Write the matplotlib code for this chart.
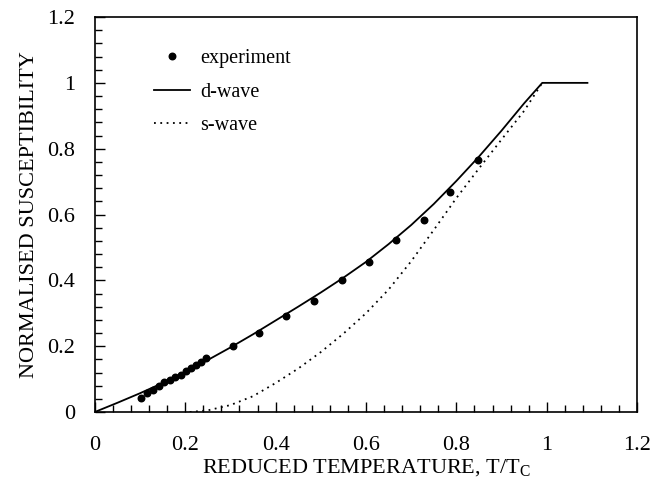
import matplotlib
matplotlib.use("Agg")
import matplotlib.pyplot as plt
from matplotlib.ticker import MultipleLocator, FuncFormatter

# experiment
t_exp = [0.103, 0.116, 0.129, 0.142, 0.154, 0.166, 0.177, 0.190, 0.201, 0.213,
         0.224, 0.235, 0.247, 0.305, 0.363, 0.424, 0.485, 0.546, 0.607, 0.667,
         0.728, 0.787, 0.847]
chi_exp = [0.043, 0.057, 0.067, 0.080, 0.092, 0.097, 0.105, 0.113, 0.125, 0.135,
           0.143, 0.153, 0.163, 0.200, 0.241, 0.293, 0.338, 0.401, 0.455, 0.522,
           0.582, 0.667, 0.767]

# d-wave curve
t_d = [0.0, 0.05, 0.1, 0.15, 0.2, 0.25, 0.3, 0.35, 0.4, 0.45, 0.5, 0.55, 0.6,
       0.65, 0.7, 0.75, 0.8, 0.85, 0.9, 0.95, 0.99, 1.09]
chi_d = [0.0, 0.028, 0.057, 0.088, 0.121, 0.158, 0.196, 0.236, 0.278, 0.320,
         0.363, 0.408, 0.456, 0.510, 0.568, 0.632, 0.702, 0.776, 0.855, 0.938,
         1.0, 1.0]

# s-wave curve
t_s = [0.21, 0.25, 0.3, 0.35, 0.4, 0.45, 0.5, 0.55, 0.6, 0.65, 0.7, 0.75, 0.8,
       0.85, 0.9, 0.95, 0.99]
chi_s = [0.0, 0.005, 0.021, 0.048, 0.088, 0.132, 0.182, 0.238, 0.300, 0.372,
         0.458, 0.553, 0.650, 0.740, 0.828, 0.915, 1.0]

plt.rcParams['font.family'] = ['Liberation Serif', 'DejaVu Serif']

fig = plt.figure(figsize=(6.63, 4.87), dpi=100)
ax = fig.add_axes([0.143, 0.154, 0.818, 0.811])

ax.plot(t_exp, chi_exp, 'o', color='black', markersize=4.7, label='experiment')
ax.plot(t_d, chi_d, '-', color='black', linewidth=1.3, label='d-wave')
ax.plot(t_s, chi_s, color='black', linewidth=1.3, linestyle=(0, (1, 2.5)),
        label='s-wave')

ax.set_xlim(0, 1.2)
ax.set_ylim(0, 1.2)
ax.xaxis.set_major_locator(MultipleLocator(0.2))
ax.yaxis.set_major_locator(MultipleLocator(0.2))
ax.xaxis.set_minor_locator(MultipleLocator(0.04))
ax.yaxis.set_minor_locator(MultipleLocator(0.04))
fmt = FuncFormatter(lambda v, p: '%g' % round(v, 2))
ax.xaxis.set_major_formatter(fmt)
ax.yaxis.set_major_formatter(fmt)
ax.tick_params(which='both', direction='in', top=False, right=False,
               labelsize=16, width=1)
ax.tick_params(which='major', length=7)
ax.tick_params(axis='x', which='major', pad=17)
ax.tick_params(axis='y', which='major', pad=14)
ax.tick_params(which='minor', length=5)
for s in ax.spines.values():
    s.set_linewidth(1.2)

ax.set_xlabel('REDUCED TEMPERATURE, T/T$_\\mathregular{C}$', fontsize=16, labelpad=2)
ax.set_ylabel('NORMALISED SUSCEPTIBILITY', fontsize=16, labelpad=6)

ax.legend(loc='upper left', bbox_to_anchor=(0.075, 0.965), frameon=False,
          fontsize=14.5, handlelength=1.8, handletextpad=0.5, labelspacing=0.72,
          numpoints=1)

plt.savefig('out.png', dpi=100)
